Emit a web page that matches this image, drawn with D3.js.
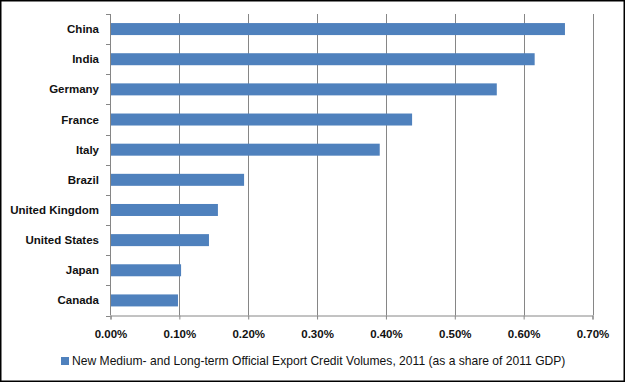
<!DOCTYPE html>
<script src="https://d3js.org/d3.v7.min.js"></script>
<style>
    html, body { margin: 0; padding: 0; background: white; }
    text { font-family: "Liberation Sans", Arial, sans-serif; }
</style>
<body></body>
<script>
    // DATA
    const countries = ["China", "India", "Germany", "France", "Italy", "Brazil",
                       "United Kingdom", "United States", "Japan", "Canada"];
    const shares = [0.660, 0.616, 0.561, 0.438, 0.391, 0.194, 0.156, 0.143, 0.1025, 0.098];
    const xTicks = [0, 0.1, 0.2, 0.3, 0.4, 0.5, 0.6, 0.7];
    const legendLabel = "New Medium- and Long-term Official Export Credit Volumes, 2011 (as a share of 2011 GDP)";

    const width = 625, height = 382;
    const barColor = "#4f81bd";
    const gridColor = "#868686";

    const svg = d3.select("body").append("svg")
        .attr("width", width)
        .attr("height", height);

    // outer frame
    svg.append("rect")
        .attr("x", 0.75).attr("y", 0.75)
        .attr("width", width - 1.5).attr("height", height - 1.5)
        .attr("fill", "white")
        .attr("stroke", "black")
        .attr("stroke-width", 1.5);

    const x = d3.scaleLinear().domain([0, 0.7]).range([110.5, 592.5]);
    const yb = d3.scaleBand().domain(countries).range([14, 315.5]);

    // vertical gridlines
    svg.append("g").selectAll("line")
        .data(xTicks.slice(1))
        .join("line")
        .attr("x1", d => Math.round(x(d)) + 0.5)
        .attr("x2", d => Math.round(x(d)) + 0.5)
        .attr("y1", 14).attr("y2", 315.5)
        .attr("stroke", gridColor);

    // bars
    svg.append("g").selectAll("rect")
        .data(shares)
        .join("rect")
        .attr("x", x(0))
        .attr("y", (d, i) => yb(countries[i]) + yb.bandwidth() / 2 - 6)
        .attr("height", 12)
        .attr("width", d => x(d) - x(0))
        .attr("fill", barColor);

    // y axis line and ticks at band boundaries
    const yAxisG = svg.append("g");
    yAxisG.append("line")
        .attr("x1", 110.5).attr("x2", 110.5)
        .attr("y1", 14).attr("y2", 315.5)
        .attr("stroke", gridColor);
    const bounds = countries.map(c => yb(c)).concat([315.5]);
    yAxisG.selectAll("line.tick")
        .data(bounds)
        .join("line")
        .attr("class", "tick")
        .attr("x1", 106).attr("x2", 110.5)
        .attr("y1", d => Math.round(d) + 0.5).attr("y2", d => Math.round(d) + 0.5)
        .attr("stroke", gridColor);
    yAxisG.selectAll("text")
        .data(countries)
        .join("text")
        .attr("x", 99)
        .attr("y", d => yb(d) + yb.bandwidth() / 2)
        .attr("dy", "0.35em")
        .attr("text-anchor", "end")
        .attr("font-size", 11.5)
        .attr("font-weight", "bold")
        .attr("fill", "#111")
        .text(d => d);

    // x axis
    const xAxis = d3.axisBottom(x)
        .tickValues(xTicks)
        .tickSize(4)
        .tickPadding(10)
        .tickFormat(d => d.toFixed(2) + "%");
    const xg = svg.append("g")
        .attr("transform", "translate(0,315.5)")
        .call(xAxis);
    xg.select(".domain").attr("stroke", gridColor);
    xg.selectAll(".tick line").attr("stroke", gridColor);
    xg.selectAll(".tick text")
        .attr("font-size", 11.5)
        .attr("font-weight", "bold")
        .attr("font-family", "Liberation Sans, Arial, sans-serif")
        .attr("fill", "#111");

    // legend
    const lg = svg.append("g").attr("transform", "translate(61,357)");
    lg.append("rect")
        .attr("width", 8).attr("height", 8)
        .attr("fill", barColor);
    lg.append("text")
        .attr("x", 11).attr("y", 4)
        .attr("dy", "0.35em")
        .attr("font-size", 12.1)
        .attr("fill", "#111")
        .text(legendLabel);
</script>
